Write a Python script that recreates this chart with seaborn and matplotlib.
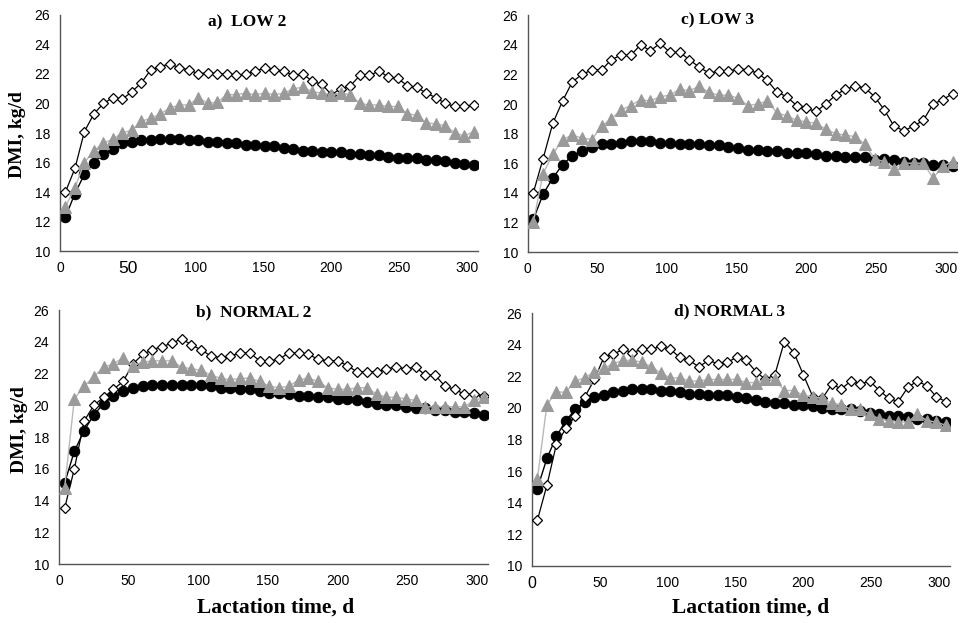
import numpy as np
import pandas as pd
import matplotlib
matplotlib.use('Agg')
import matplotlib.pyplot as plt
import seaborn as sns

### DATA ###
# lactation day of each weekly point
days = list(range(4, 306, 7))  # 4, 11, ..., 305

# a) LOW 2
low2_circle = [12.3, 13.9, 15.2, 16.0, 16.6, 16.9, 17.3, 17.4, 17.5, 17.5,
               17.6, 17.6, 17.6, 17.5, 17.5, 17.4, 17.4, 17.3, 17.3, 17.2,
               17.2, 17.1, 17.1, 17.0, 16.9, 16.8, 16.8, 16.7, 16.7, 16.7,
               16.6, 16.6, 16.5, 16.5, 16.4, 16.3, 16.3, 16.3, 16.2, 16.2,
               16.1, 16.0, 15.9, 15.8]
low2_tri = [13.0, 14.3, 16.0, 16.8, 17.3, 17.6, 18.0, 18.2, 18.8, 19.0,
            19.3, 19.7, 19.9, 19.9, 20.4, 20.0, 20.1, 20.6, 20.6, 20.7,
            20.6, 20.7, 20.6, 20.7, 21.0, 21.1, 20.8, 20.7, 20.6, 20.7,
            20.6, 20.0, 19.9, 19.9, 19.8, 19.8, 19.3, 19.2, 18.7, 18.6,
            18.5, 18.0, 17.8, 18.1]
low2_diam = [14.0, 15.6, 18.1, 19.3, 20.0, 20.4, 20.3, 20.8, 21.4, 22.3,
             22.5, 22.7, 22.4, 22.3, 22.0, 22.1, 22.0, 22.0, 21.9, 22.0,
             22.2, 22.4, 22.3, 22.2, 21.9, 22.0, 21.5, 21.3, 20.6, 21.0,
             21.2, 21.9, 21.9, 22.2, 21.8, 21.7, 21.2, 21.1, 20.7, 20.4,
             20.0, 19.8, 19.8, 19.9]

# c) LOW 3
low3_circle = [12.2, 13.9, 15.0, 15.9, 16.5, 16.8, 17.1, 17.3, 17.3, 17.4,
               17.5, 17.5, 17.5, 17.4, 17.4, 17.3, 17.3, 17.3, 17.2, 17.2,
               17.1, 17.0, 16.9, 16.9, 16.8, 16.8, 16.7, 16.7, 16.7, 16.6,
               16.5, 16.5, 16.4, 16.4, 16.4, 16.2, 16.3, 16.2, 16.1, 16.0,
               16.0, 15.9, 15.9, 15.8]
low3_tri = [12.0, 15.3, 16.6, 17.6, 17.9, 17.7, 17.6, 18.5, 19.0, 19.6,
            19.9, 20.3, 20.2, 20.5, 20.6, 21.0, 20.9, 21.2, 20.8, 20.6,
            20.6, 20.4, 19.9, 20.0, 20.2, 19.4, 19.2, 18.9, 18.8, 18.7,
            18.3, 18.0, 17.9, 17.8, 17.3, 16.3, 16.1, 15.6, 16.0, 16.0,
            16.0, 15.0, 15.8, 16.1]
low3_diam = [14.0, 16.3, 18.7, 20.2, 21.5, 22.0, 22.3, 22.3, 23.0, 23.3,
             23.3, 24.0, 23.6, 24.1, 23.5, 23.5, 23.0, 22.5, 22.1, 22.2,
             22.2, 22.4, 22.3, 22.1, 21.6, 20.8, 20.5, 19.9, 19.7, 19.5,
             20.0, 20.6, 21.0, 21.2, 21.1, 20.5, 19.6, 18.5, 18.2, 18.5,
             18.9, 20.0, 20.3, 20.7]

# b) NORMAL 2
norm2_circle = [15.1, 17.1, 18.4, 19.4, 20.1, 20.6, 20.9, 21.1, 21.2, 21.3,
                21.3, 21.3, 21.3, 21.3, 21.3, 21.2, 21.1, 21.1, 21.0, 21.0,
                20.9, 20.8, 20.8, 20.7, 20.6, 20.6, 20.5, 20.5, 20.4, 20.4,
                20.3, 20.2, 20.1, 20.0, 20.0, 19.9, 19.8, 19.8, 19.7, 19.7,
                19.6, 19.6, 19.5, 19.4]
norm2_tri = [14.8, 20.4, 21.2, 21.8, 22.4, 22.6, 23.0, 22.5, 22.7, 22.8,
             22.8, 22.8, 22.4, 22.3, 22.2, 21.9, 21.7, 21.6, 21.7, 21.7,
             21.5, 21.2, 21.1, 21.2, 21.6, 21.7, 21.5, 21.1, 21.0, 21.0,
             21.1, 21.1, 20.7, 20.5, 20.5, 20.4, 20.3, 19.9, 19.9, 19.9,
             19.9, 19.9, 20.3, 20.5]
norm2_diam = [13.5, 16.0, 19.0, 20.0, 20.5, 21.0, 21.5, 22.6, 23.2, 23.5,
              23.7, 23.9, 24.2, 23.8, 23.5, 23.1, 23.0, 23.1, 23.3, 23.3,
              22.8, 22.8, 22.9, 23.3, 23.3, 23.2, 22.9, 22.8, 22.8, 22.5,
              22.1, 22.1, 22.1, 22.3, 22.4, 22.3, 22.4, 21.9, 21.9, 21.2,
              21.0, 20.7, 20.7, 20.6]

# d) NORMAL 3
norm3_circle = [14.9, 16.8, 18.2, 19.2, 19.9, 20.4, 20.7, 20.8, 21.0, 21.1,
                21.2, 21.2, 21.2, 21.1, 21.1, 21.0, 20.9, 20.9, 20.8, 20.8,
                20.8, 20.7, 20.6, 20.5, 20.4, 20.3, 20.3, 20.2, 20.2, 20.1,
                20.0, 19.9, 19.9, 19.9, 19.8, 19.7, 19.6, 19.5, 19.5, 19.4,
                19.3, 19.3, 19.2, 19.1]
norm3_tri = [15.5, 20.2, 21.0, 21.0, 21.7, 21.9, 22.3, 22.5, 22.8, 23.0,
             23.0, 22.9, 22.6, 22.2, 21.9, 21.9, 21.7, 21.7, 21.8, 21.8,
             21.8, 21.8, 21.6, 21.6, 21.8, 21.8, 21.1, 21.1, 20.8, 20.7,
             20.6, 20.3, 20.2, 19.9, 19.9, 19.6, 19.3, 19.2, 19.1, 19.1,
             19.6, 19.2, 19.1, 18.9]
norm3_diam = [12.9, 15.1, 17.7, 18.7, 19.5, 20.7, 21.8, 23.2, 23.4, 23.7,
              23.5, 23.7, 23.7, 23.9, 23.7, 23.2, 23.0, 22.6, 23.0, 22.8,
              22.9, 23.2, 23.0, 22.3, 21.8, 22.1, 24.2, 23.5, 22.1, 20.7,
              20.6, 21.5, 21.2, 21.7, 21.5, 21.7, 21.1, 20.6, 20.4, 21.3,
              21.7, 21.4, 20.7, 20.4]

titles = ['a)  LOW 2', 'c) LOW 3', 'b)  NORMAL 2', 'd) NORMAL 3']
y_label = 'DMI, kg/d'
x_label = 'Lactation time, d'

### FIGURE ###
sns.set_style('white')
plt.rcParams['font.family'] = ['Liberation Sans', 'DejaVu Sans']
plt.rcParams['text.color'] = 'black'
plt.rcParams['xtick.color'] = 'black'
plt.rcParams['ytick.color'] = 'black'

fig = plt.figure(figsize=(9.63, 6.23), dpi=100)

# axes boxes in figure fractions (left, bottom, width, height)
boxes = [(0.0623, 0.597, 0.434, 0.379),
         (0.548, 0.5955, 0.4455, 0.380),
         (0.0613, 0.0947, 0.4455, 0.4077),
         (0.5524, 0.0915, 0.434, 0.406)]
panels = [(low2_circle, low2_tri, low2_diam),
          (low3_circle, low3_tri, low3_diam),
          (norm2_circle, norm2_tri, norm2_diam),
          (norm3_circle, norm3_tri, norm3_diam)]
title_pos = [(247, 22), (718, 20), (254, 312), (730, 311)]

axes = []
for box, (circ, tri, diam) in zip(boxes, panels):
    ax = fig.add_axes(box)
    # black circles underneath, then open diamonds, grey triangles on top
    sns.lineplot(x=days, y=circ, ax=ax, color='black', linewidth=1.0,
                 marker='o', markersize=7.5, markeredgecolor='black',
                 markerfacecolor='black', zorder=2)
    sns.lineplot(x=days, y=diam, ax=ax, color='black', linewidth=0.9,
                 marker='D', markersize=5.6, markeredgecolor='black',
                 markerfacecolor='white', markeredgewidth=0.9, zorder=3)
    sns.lineplot(x=days, y=tri, ax=ax, color='#b8b8b8', linewidth=1.0,
                 marker='^', markersize=8, markeredgecolor='#9a9a9a',
                 markerfacecolor='#9a9a9a', zorder=4)
    ax.set_xlim(0, 308)
    ax.set_ylim(10, 26)
    ax.set_xticks([0, 50, 100, 150, 200, 250, 300])
    ax.set_yticks([10, 12, 14, 16, 18, 20, 22, 24, 26])
    for s in ['top', 'right']:
        ax.spines[s].set_visible(False)
    for s in ['left', 'bottom']:
        ax.spines[s].set_color('#555555')
        ax.spines[s].set_linewidth(1.0)
    ax.tick_params(axis='both', direction='out', length=4, width=1,
                   color='#555555', labelcolor='black', labelsize=10, pad=3)
    ax.set_xlabel('')
    ax.set_ylabel('')
    axes.append(ax)

# odd oversized tick labels in the original
axes[0].get_xticklabels()[1].set_fontsize(12.5)
axes[3].get_xticklabels()[0].set_fontsize(11.5)

serif = ['Liberation Serif', 'DejaVu Serif']
for (tx, ty), t in zip(title_pos, titles):
    fig.text(tx / 963, 1 - ty / 623, t, ha='center', va='center',
             fontsize=12.5, fontweight='bold', family=serif)

fig.text(17 / 963, 1 - 135 / 623, y_label, rotation=90, ha='center',
         va='center', fontsize=14, fontweight='bold', family=serif)
fig.text(20 / 963, 1 - 430 / 623, y_label, rotation=90, ha='center',
         va='center', fontsize=14, fontweight='bold', family=serif)
fig.text(276 / 963, 1 - 608 / 623, x_label, ha='center', va='center',
         fontsize=15.5, fontweight='bold', family=serif)
fig.text(751 / 963, 1 - 608 / 623, x_label, ha='center', va='center',
         fontsize=15.5, fontweight='bold', family=serif)

plt.savefig('out.png', dpi=100)
